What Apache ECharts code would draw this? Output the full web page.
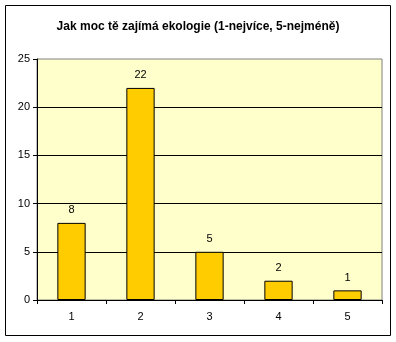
<!DOCTYPE html>
<html>
<head>
<meta charset="utf-8">
<script src="https://cdn.jsdelivr.net/npm/echarts@6/dist/echarts.min.js"></script>
<style>
  html, body { margin: 0; padding: 0; background: #fff; }
  #chart { width: 396px; height: 342px; }
</style>
</head>
<body>
<div id="chart"></div>
<script>
// hodnoty z grafu
const categories = ["1", "2", "3", "4", "5"];
const counts = [8, 22, 5, 2, 1];
const yTicks = { min: 0, max: 25, step: 5 };

const chart = echarts.init(document.getElementById("chart"), null, { renderer: "canvas" });
const FONT = "Liberation Sans, Arial, sans-serif";

chart.setOption({
  animation: false,
  backgroundColor: "#fff",
  title: {
    text: "Jak moc tě zajímá ekologie (1-nejvíce, 5-nejméně)",
    left: "center",
    top: 16,
    textStyle: { fontFamily: FONT, fontSize: 12, fontWeight: "bold", color: "#000" }
  },
  graphic: [{
    type: "rect",
    shape: { x: 5.5, y: 5.5, width: 385, height: 330 },
    style: { fill: "none", stroke: "#000", lineWidth: 1 },
    silent: true
  }],
  grid: {
    left: 37, right: 14, top: 59, bottom: 42,
    show: true,
    backgroundColor: "#FFFFCC",
    borderColor: "#808080",
    borderWidth: 1
  },
  xAxis: {
    type: "category",
    data: categories,
    axisLine: { lineStyle: { color: "#000", width: 1 } },
    axisTick: { show: true, alignWithLabel: false, length: 4, lineStyle: { color: "#000" } },
    axisLabel: { fontFamily: FONT, fontSize: 11, color: "#000", margin: 11 }
  },
  yAxis: {
    type: "value",
    min: yTicks.min, max: yTicks.max, interval: yTicks.step,
    axisLine: { show: true, lineStyle: { color: "#000", width: 1 } },
    axisTick: { show: true, length: 4, lineStyle: { color: "#000" } },
    splitLine: { show: true, showMaxLine: false, lineStyle: { color: "#000", width: 1 } },
    axisLabel: { fontFamily: FONT, fontSize: 11, color: "#000", margin: 7 }
  },
  series: [{
    type: "bar",
    data: counts,
    barWidth: "41%",
    itemStyle: { color: "#FFCC00", borderColor: "#000", borderWidth: 1 },
    label: {
      show: true, position: "top", distance: 7,
      fontFamily: FONT, fontSize: 11, color: "#000"
    }
  }]
});
</script>
</body>
</html>
